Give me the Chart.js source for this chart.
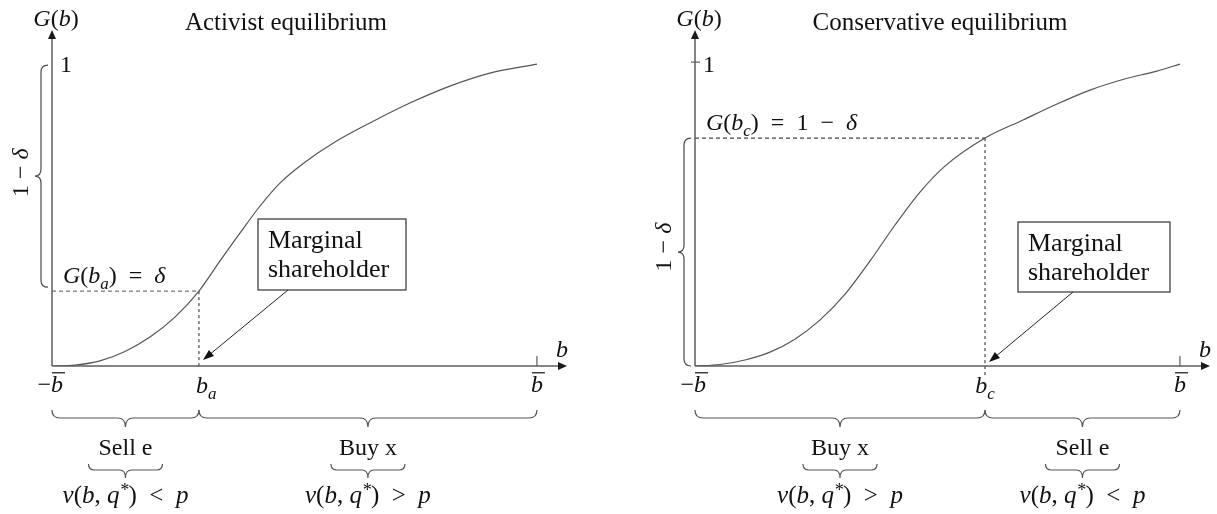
<!DOCTYPE html>
<html>
<head>
<meta charset="utf-8">
<script src="https://cdn.jsdelivr.net/npm/chart.js@4.4.1/dist/chart.umd.min.js"></script>
<style>
  html, body { margin: 0; padding: 0; background: #fff; }
  #wrap { position: relative; width: 1217px; height: 514px; }
  canvas { position: absolute; top: 0; }
</style>
</head>
<body>
<div id="wrap">
  <canvas id="activist" width="608" height="514" style="left:0;width:608px;height:514px"></canvas>
  <canvas id="conservative" width="609" height="514" style="left:608px;width:609px;height:514px"></canvas>
</div>
<script>
// b goes from -bbar (-1) to bbar (1), G(b) from 0 to 1
const bMin = -1, bMax = 1;
const xMax = 1.124, yMax = 1.113;   // room for the axis arrows

// distribution G(b)
const activistB = [-1, -0.905, -0.802, -0.699, -0.596, -0.493, -0.394, -0.307, -0.225, -0.142, -0.060, 0.043, 0.167, 0.311, 0.476, 0.641, 0.806, 1.0];
const activistG = [0, 0.003, 0.017, 0.048, 0.096, 0.162, 0.248, 0.348, 0.440, 0.530, 0.606, 0.675, 0.742, 0.805, 0.871, 0.927, 0.970, 1.0];
const conservativeB = [-1, -0.897, -0.794, -0.691, -0.588, -0.485, -0.381, -0.278, -0.175, -0.072, 0.031, 0.196, 0.353, 0.493, 0.629, 0.765, 0.905, 1.0];
const conservativeG = [0, 0.005, 0.020, 0.046, 0.089, 0.152, 0.238, 0.348, 0.467, 0.576, 0.662, 0.755, 0.815, 0.868, 0.914, 0.949, 0.977, 1.0];

// marginal shareholders
const bA = -0.394, gA = 0.248;   // G(b_a) = delta
const bC = 0.196, gC = 0.755;    // G(b_c) = 1 - delta

// what each side of the marginal shareholder does
const activistActions = ['Sell e', 'Buy x'];
const activistSigns = ['<', '>'];
const conservativeActions = ['Buy x', 'Sell e'];
const conservativeSigns = ['>', '<'];

const SERIF = '"Liberation Serif", "DejaVu Serif", serif';
const INK = '#111';
function font(size, italic) { return (italic ? 'italic ' : '') + size + 'px ' + SERIF; }

// runs: [text, style], style 'r' upright, 'i' italic, 'sub', 'sup'
function rich(ctx, runs, x, y, size, align) {
  const parts = runs.map(([t, s]) => {
    const sz = (s === 'sub' || s === 'sup') ? Math.round(size * 0.7) : size;
    ctx.font = font(sz, s !== 'r');
    return { t, s, sz, w: ctx.measureText(t).width };
  });
  const total = parts.reduce((a, p) => a + p.w, 0);
  let cx = align === 'center' ? x - total / 2 : x;
  ctx.textAlign = 'left';
  ctx.textBaseline = 'alphabetic';
  parts.forEach(p => {
    ctx.font = font(p.sz, p.s !== 'r');
    const dy = p.s === 'sub' ? size * 0.25 : p.s === 'sup' ? -size * 0.28 : 0;
    ctx.fillText(p.t, cx, y + dy);
    cx += p.w;
  });
  return total;
}

function line(ctx, x1, y1, x2, y2) {
  ctx.beginPath(); ctx.moveTo(x1, y1); ctx.lineTo(x2, y2); ctx.stroke();
}

function head(ctx, x, y, dx, dy, len, half) {
  const n = Math.hypot(dx, dy); dx /= n; dy /= n;
  ctx.beginPath();
  ctx.moveTo(x, y);
  ctx.lineTo(x - dx * len - dy * half, y - dy * len + dx * half);
  ctx.lineTo(x - dx * len + dy * half, y - dy * len - dx * half);
  ctx.closePath(); ctx.fill();
}

function braceDown(ctx, x1, x2, y, r, tip) {
  const m = (x1 + x2) / 2;
  ctx.beginPath();
  ctx.moveTo(x1, y);
  ctx.quadraticCurveTo(x1, y + r, x1 + r, y + r);
  ctx.lineTo(m - r, y + r);
  ctx.quadraticCurveTo(m, y + r, m, y + r + tip);
  ctx.quadraticCurveTo(m, y + r, m + r, y + r);
  ctx.lineTo(x2 - r, y + r);
  ctx.quadraticCurveTo(x2, y + r, x2, y);
  ctx.stroke();
}

function braceLeft(ctx, y1, y2, x, r, tip) {
  const m = (y1 + y2) / 2;
  ctx.beginPath();
  ctx.moveTo(x, y1);
  ctx.quadraticCurveTo(x - r, y1, x - r, y1 + r);
  ctx.lineTo(x - r, m - r);
  ctx.quadraticCurveTo(x - r, m, x - r - tip, m);
  ctx.quadraticCurveTo(x - r, m, x - r, m + r);
  ctx.lineTo(x - r, y2 - r);
  ctx.quadraticCurveTo(x - r, y2, x, y2);
  ctx.stroke();
}

// italic b with a bar over it
function bBar(ctx, x, base, size, align) {
  ctx.font = font(size, true);
  const w = ctx.measureText('b').width;
  const left = align === 'center' ? x - w / 2 : x;
  ctx.textAlign = 'left';
  ctx.fillText('b', left, base);
  ctx.save(); ctx.lineWidth = 1.2; ctx.strokeStyle = INK;
  line(ctx, left + 1, base - size * 0.8, left + w + 2, base - size * 0.8);
  ctx.restore();
}

const panelSpec = {
  activist: {
    title: 'Activist equilibrium', titleX: 286,
    bStar: bA, gStar: gA, sub: 'a', starRuns: [['G', 'i'], ['(', 'r'], ['b', 'i'], ['a', 'sub'], [')', 'r'], ['  =  ', 'r'], ['δ', 'i']],
    braceFrom: 1, braceTo: gA, tickOne: false, bLabelShift: -3, bLabelAlign: 'left',
    box: { l: 258, t: 219, w: 148, h: 71 }, arrowFrom: [288, 290], arrowTo: [203, 360],
    actions: activistActions, signs: activistSigns
  },
  conservative: {
    title: 'Conservative equilibrium', titleX: 332,
    bStar: bC, gStar: gC, sub: 'c', starRuns: [['G', 'i'], ['(', 'r'], ['b', 'i'], ['c', 'sub'], [')', 'r'], ['  =  ', 'r'], ['1', 'r'], ['  −  ', 'r'], ['δ', 'i']],
    braceFrom: gC, braceTo: 0, tickOne: true, bLabelShift: 0, bLabelAlign: 'center',
    box: { l: 410, t: 222, w: 152, h: 70 }, arrowFrom: [465, 292], arrowTo: [381, 362],
    actions: conservativeActions, signs: conservativeSigns
  }
};

const diagram = {
  id: 'diagram',
  afterDatasetsDraw(chart) {
    const o = panelSpec[chart.canvas.id];
    const ctx = chart.ctx, sx = chart.scales.x, sy = chart.scales.y;
    const x0 = sx.getPixelForValue(bMin), x1 = sx.getPixelForValue(bMax), xEnd = chart.chartArea.right;
    const y0 = sy.getPixelForValue(0), y1 = sy.getPixelForValue(1), yTop = chart.chartArea.top;
    const xs = sx.getPixelForValue(o.bStar), ys = sy.getPixelForValue(o.gStar);
    ctx.save();

    // axes with arrows
    ctx.strokeStyle = '#5c5c5c'; ctx.fillStyle = '#1a1a1a'; ctx.lineWidth = 1.5;
    line(ctx, x0, y0, xEnd - 5, y0);
    head(ctx, xEnd, y0, 1, 0, 9, 4);
    line(ctx, x0, y0, x0, yTop + 5);
    head(ctx, x0, yTop, 0, -1, 9, 4);
    ctx.lineWidth = 1.2;
    line(ctx, x1, y0 - 10, x1, y0);
    if (o.tickOne) line(ctx, x0 - 4, y1 - 2, x0 + 5, y1 - 2);

    ctx.fillStyle = INK;
    // title
    ctx.font = font(25, false); ctx.textAlign = 'center'; ctx.textBaseline = 'alphabetic';
    ctx.fillText(o.title, o.titleX, 30);
    // axis labels
    rich(ctx, [['G', 'i'], ['(', 'r'], ['b', 'i'], [')', 'r']], x0 + 4, 26, 24, 'center');
    rich(ctx, [['1', 'r']], x0 + 8, y1 + 8, 24, 'left');
    rich(ctx, [['b', 'i']], xEnd - 5, y0 - 9, 24, 'center');

    // tick labels under the b axis
    ctx.font = font(24, false); ctx.textAlign = 'right';
    ctx.fillText('−', x0 - 1, 392);
    bBar(ctx, x0 - 1, 392, 24, 'left');
    bBar(ctx, x1, 392, 24, 'center');
    rich(ctx, [['b', 'i'], [o.sub, 'sub']], o.bLabelAlign === 'center' ? xs : xs + o.bLabelShift, 393, 24, o.bLabelAlign);

    // G(b*) label
    rich(ctx, o.starRuns, x0 + 11, ys - 8, 24, 'left');

    // 1 - delta brace on the G axis
    ctx.strokeStyle = '#4a4a4a'; ctx.lineWidth = 1.2;
    const ya = sy.getPixelForValue(o.braceFrom), yb = sy.getPixelForValue(o.braceTo);
    braceLeft(ctx, ya + (o.tickOne ? 0 : 1), yb - (o.tickOne ? 0 : 4), x0 - 4, 7, 6);
    ctx.save();
    ctx.translate(x0 - 32, (ya + yb) / 2 - 5);
    ctx.rotate(-Math.PI / 2);
    rich(ctx, [['1', 'r'], [' − ', 'r'], ['δ', 'i']], 0, 8, 24, 'center');
    ctx.restore();

    // marginal shareholder box and arrow
    const b = o.box;
    ctx.fillStyle = '#fff'; ctx.fillRect(b.l, b.t, b.w, b.h);
    ctx.strokeStyle = '#333'; ctx.lineWidth = 1.2; ctx.strokeRect(b.l, b.t, b.w, b.h);
    ctx.fillStyle = INK; ctx.font = font(26, false); ctx.textAlign = 'left';
    ctx.fillText('Marginal', b.l + 10, b.t + 29);
    ctx.fillText('shareholder', b.l + 10, b.t + 58);
    ctx.strokeStyle = '#222'; ctx.fillStyle = '#111'; ctx.lineWidth = 1;
    const [ax, ay] = o.arrowFrom, [bx, by] = o.arrowTo;
    const dx = bx - ax, dy = by - ay, n = Math.hypot(dx, dy);
    line(ctx, ax, ay, bx - dx / n * 8, by - dy / n * 8);
    head(ctx, bx, by, dx, dy, 11, 4);

    // braces under the axis
    const spans = [[x0, xs], [xs, x1]];
    ctx.strokeStyle = '#555'; ctx.lineWidth = 1.2;
    spans.forEach(([p, q], i) => {
      const m = (p + q) / 2;
      braceDown(ctx, p, q, 410, 8, 9);
      ctx.fillStyle = INK; ctx.font = font(24, false); ctx.textAlign = 'center';
      ctx.fillText(o.actions[i], m, 455);
      braceDown(ctx, m - 37, m + 37, 464, 6, 8);
      rich(ctx, [['v', 'i'], ['(', 'r'], ['b', 'i'], [', ', 'r'], ['q', 'i'], ['*', 'sup'], [')', 'r'], ['  ' + o.signs[i] + '  ', 'r'], ['p', 'i']], m, 503, 25, 'center');
    });
    ctx.restore();
  }
};

function makeChart(id, bs, gs, bStar, gStar, pad, hDash, vEnd) {
  const curve = bs.map((b, i) => ({ x: b, y: gs[i] }));
  return new Chart(document.getElementById(id), {
    type: 'scatter',
    data: {
      datasets: [
        { data: curve, showLine: true, borderColor: '#555', borderWidth: 1.2, pointRadius: 0, cubicInterpolationMode: 'monotone' },
        { data: [{ x: bMin, y: gStar }, { x: bStar, y: gStar }], showLine: true, borderColor: hDash, borderWidth: 1.2, borderDash: [4, 3], pointRadius: 0 },
        { data: [{ x: bStar, y: gStar }, { x: bStar, y: vEnd }], showLine: true, borderColor: '#222', borderWidth: 1, borderDash: [3, 3], pointRadius: 0, clip: false }
      ]
    },
    options: {
      responsive: false, animation: false, devicePixelRatio: 1,
      layout: { padding: pad },
      scales: {
        x: { type: 'linear', min: bMin, max: xMax, display: false },
        y: { type: 'linear', min: 0, max: yMax, display: false }
      },
      plugins: { legend: { display: false }, tooltip: { enabled: false } }
    },
    plugins: [diagram]
  });
}

makeChart('activist', activistB, activistG, bA, gA, { left: 52, right: 41, top: 30, bottom: 148 }, '#777', 0);
makeChart('conservative', conservativeB, conservativeG, bC, gC, { left: 87, right: 7, top: 30, bottom: 148 }, '#444', -0.04);
</script>
</body>
</html>
